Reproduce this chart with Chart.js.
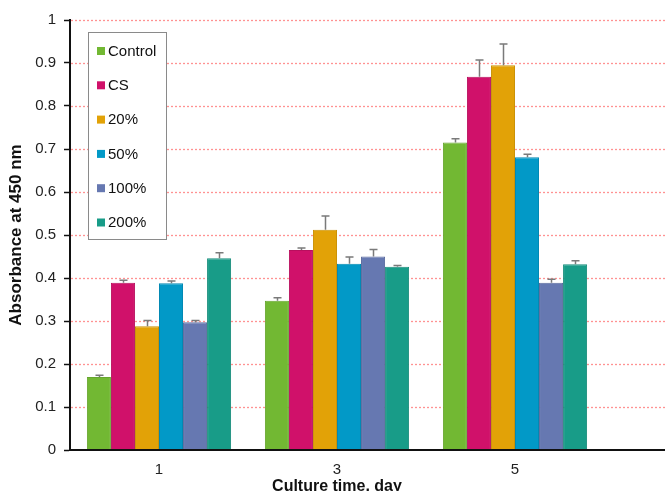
<!DOCTYPE html>
<html>
<head>
<meta charset="utf-8">
<script src="https://cdn.jsdelivr.net/npm/chart.js@4/dist/chart.umd.min.js"></script>
<style>
  html, body { margin: 0; padding: 0; background: #fff; }
  canvas { display: block; }
</style>
</head>
<body>
<canvas id="c" width="665" height="491"></canvas>
<script>
// Culture time categories (days)
const days = ['1', '3', '5'];
const seriesNames = ['Control', 'CS', '20%', '50%', '100%', '200%'];

// Mean absorbance at 450 nm per group
const control = [0.170, 0.347, 0.715];
const cs      = [0.389, 0.465, 0.868];
const p20     = [0.288, 0.512, 0.895];
const p50     = [0.388, 0.433, 0.681];
const p100    = [0.297, 0.450, 0.389];
const p200    = [0.446, 0.426, 0.432];

// Standard deviations (upper error bars)
const controlErr = [0.004, 0.007, 0.009];
const csErr      = [0.006, 0.005, 0.039];
const p20Err     = [0.013, 0.032, 0.049];
const p50Err     = [0.005, 0.016, 0.007];
const p100Err    = [0.004, 0.016, 0.008];
const p200Err    = [0.013, 0.003, 0.008];

const yTickValues = [0, 0.1, 0.2, 0.3, 0.4, 0.5, 0.6, 0.7, 0.8, 0.9, 1];

const fills   = ['#72b833', '#d0116a', '#e2a207', '#0299c7', '#6678b1', '#189c88'];
const borders = ['#66a52e', '#b90f5e', '#cb9206', '#0289b3', '#5c6c9f', '#168c7a'];

const values = [control, cs, p20, p50, p100, p200];
const errors = [controlErr, csErr, p20Err, p50Err, p100Err, p200Err];

const FONT = "'Liberation Sans', Arial, sans-serif";

const datasets = seriesNames.map((name, i) => ({
  label: name,
  data: values[i],
  errors: errors[i],
  backgroundColor: fills[i],
  borderColor: borders[i],
  borderWidth: 1,
  borderSkipped: 'bottom',
  categoryPercentage: 0.81,
  barPercentage: 1.0
}));

// Dotted horizontal guides, running out to the right edge of the canvas
const guideLines = {
  id: 'guideLines',
  beforeDatasetsDraw(chart) {
    const { ctx, chartArea, scales: { y } } = chart;
    ctx.save();
    ctx.strokeStyle = 'rgba(255, 110, 110, 0.75)';
    ctx.lineWidth = 1.3;
    ctx.setLineDash([2, 2]);
    y.ticks.forEach(t => {
      if (t.value <= 0) return;
      const py = Math.round(y.getPixelForValue(t.value)) + 0.5;
      ctx.beginPath();
      ctx.moveTo(chartArea.left + 1, py);
      ctx.lineTo(chart.width, py);
      ctx.stroke();
    });
    ctx.restore();
  },
  afterDatasetsDraw(chart) {
    const { ctx, chartArea } = chart;
    ctx.save();
    ctx.strokeStyle = '#111';
    ctx.lineWidth = 2;
    ctx.beginPath();
    ctx.moveTo(chartArea.left, chartArea.bottom);
    ctx.lineTo(chart.width, chartArea.bottom);
    ctx.stroke();
    ctx.restore();
  }
};

// Upper error bars with caps
const errorBars = {
  id: 'errorBars',
  afterDatasetsDraw(chart) {
    const { ctx, scales: { y } } = chart;
    ctx.save();
    ctx.strokeStyle = '#7a7a7a';
    ctx.lineWidth = 1.5;
    chart.data.datasets.forEach((ds, i) => {
      const meta = chart.getDatasetMeta(i);
      meta.data.forEach((bar, j) => {
        const top = y.getPixelForValue(ds.data[j] + ds.errors[j]);
        const x = Math.round(bar.x) + 0.5;
        ctx.beginPath();
        ctx.moveTo(x, bar.y);
        ctx.lineTo(x, top);
        ctx.moveTo(x - 4, top);
        ctx.lineTo(x + 4, top);
        ctx.stroke();
      });
    });
    ctx.restore();
  }
};

// Boxed legend inside the plot, top-left
const boxLegend = {
  id: 'boxLegend',
  afterDraw(chart) {
    const { ctx } = chart;
    const bx = 88, by = 32, bw = 78, bh = 207;
    ctx.save();
    ctx.fillStyle = '#fff';
    ctx.fillRect(bx, by, bw, bh);
    ctx.strokeStyle = '#8a8a8a';
    ctx.lineWidth = 1;
    ctx.strokeRect(bx + 0.5, by + 0.5, bw, bh);
    ctx.font = '15px ' + FONT;
    ctx.textBaseline = 'middle';
    ctx.textAlign = 'left';
    chart.data.datasets.forEach((ds, i) => {
      const cy = 51 + i * 34.3;
      ctx.fillStyle = ds.backgroundColor;
      ctx.fillRect(97, cy - 4, 8, 8);
      ctx.fillStyle = '#111';
      ctx.fillText(ds.label, 108, cy + 0.5);
    });
    ctx.restore();
  }
};

new Chart(document.getElementById('c'), {
  type: 'bar',
  data: { labels: days, datasets },
  plugins: [guideLines, errorBars, boxLegend],
  options: {
    responsive: false,
    animation: false,
    devicePixelRatio: 1,
    layout: { padding: { left: 0, top: 20, right: 61, bottom: 0 } },
    plugins: {
      legend: { display: false },
      tooltip: { enabled: false }
    },
    scales: {
      x: {
        afterFit(scale) { scale.height = 41; },
        grid: { display: true, drawOnChartArea: false, drawTicks: false },
        border: { display: true, color: '#111', width: 2 },
        ticks: { color: '#222', font: { family: FONT, size: 15 }, padding: 11 },
        title: {
          display: true,
          text: 'Culture time, day',
          color: '#111',
          font: { family: FONT, size: 16, weight: 'bold' },
          padding: { top: 0, bottom: -5 }
        }
      },
      y: {
        min: 0,
        max: 1,
        afterFit(scale) { scale.width = 70; },
        afterBuildTicks(scale) { scale.ticks = yTickValues.map(v => ({ value: v })); },
        grid: {
          drawOnChartArea: false,
          drawTicks: true,
          tickLength: 6,
          tickColor: '#111',
          tickWidth: 1.5
        },
        border: { display: true, color: '#111', width: 2 },
        ticks: {
          color: '#222',
          font: { family: FONT, size: 15 },
          padding: 8,
          callback: v => String(v)
        },
        title: {
          display: true,
          text: 'Absorbance at 450 nm',
          color: '#111',
          font: { family: FONT, size: 17, weight: 'bold' },
          padding: { top: 6, bottom: 0 }
        }
      }
    }
  }
});
</script>
</body>
</html>
